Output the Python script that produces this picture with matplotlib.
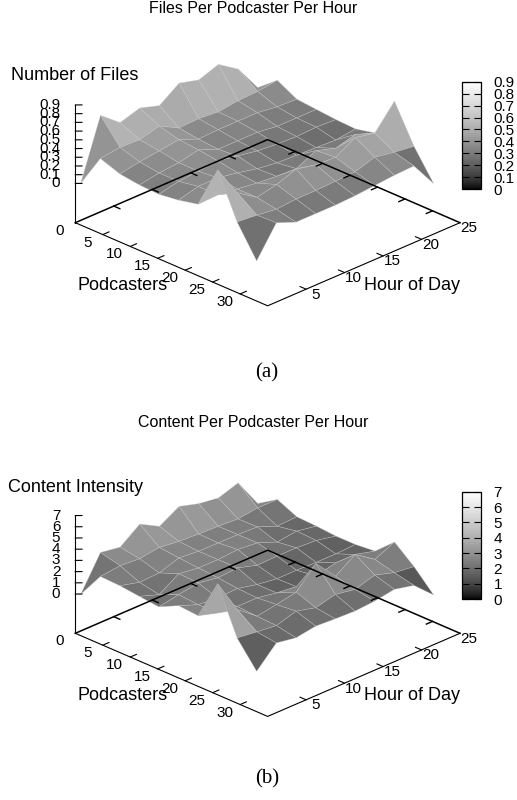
import numpy as np
import matplotlib
matplotlib.use("Agg")
import matplotlib.pyplot as plt
import matplotlib.transforms as mtransforms
from matplotlib.cm import ScalarMappable
from matplotlib.colors import ListedColormap, Normalize
from mpl_toolkits.mplot3d import proj3d

W, H = 517, 800

podcasters = [1, 4.56, 8.11, 11.67, 15.22, 18.78, 22.33, 25.89, 29.44, 33]
hours = [0, 2.56, 5.11, 7.67, 10.22, 12.78, 15.33, 17.89, 20.44, 23]

x_ticks = [0, 5, 10, 15, 20, 25, 30]
y_ticks = [5, 10, 15, 20, 25]

# rows = podcaster bins, columns = hour bins
files = [
    [.03, .71, .53, .60, .53, .69, .63, .71, .56, .25],
    [.41, .44, .43, .49, .37, .38, .36, .39, .40, .43],
    [.33, .37, .40, .43, .34, .35, .35, .35, .32, .31],
    [.30, .34, .36, .41, .32, .32, .32, .29, .29, .29],
    [.29, .34, .36, .38, .34, .30, .28, .27, .28, .27],
    [.32, .38, .38, .34, .29, .26, .25, .24, .23, .26],
    [.37, .38, .35, .32, .30, .29, .40, .33, .39, .31],
    [.86, .50, .35, .40, .48, .43, .42, .55, .50, .77],
    [.36, .34, .31, .33, .33, .34, .35, .42, .38, .35],
    [.01, .35, .26, .26, .26, .27, .29, .31, .32, .02],
]
files_ticks = [0, .1, .2, .3, .4, .5, .6, .7, .8, .9]

content = [
    [.2, 3.16, 2.88, 4.18, 3.22, 4.24, 3.73, 3.48, 4.06, 1.47],
    [2.53, 2.73, 2.6, 2.85, 2.63, 2.53, 2.46, 2.36, 2.59, 2.58],
    [2.46, 2.0, 2.08, 2.66, 2.5, 2.49, 2.47, 2.4, 1.71, 1.79],
    [2.26, 1.66, 2.77, 2.52, 2.51, 2.65, 2.49, 1.8, 2.02, 1.71],
    [2.08, 2.41, 2.69, 2.4, 2.52, 2.0, 2.05, 2.04, 1.94, 1.57],
    [2.94, 2.27, 2.1, 2.2, 1.79, 1.55, 1.55, 1.5, 1.5, 1.58],
    [2.8, 2.28, 2.1, 2.11, 1.8, 1.6, 1.8, 2.2, 2.2, 1.74],
    [6.4, 3.34, 1.99, 2.27, 2.62, 4.41, 2.53, 3.71, 2.51, 3.3],
    [2.32, 2.1, 1.91, 2.43, 1.98, 2.41, 2.1, 2.62, 2.08, 1.86],
    [.1, 1.87, 1.57, 1.85, 1.75, 1.68, 1.81, 2.1, 1.7, .09],
]
content_ticks = [0, 1, 2, 3, 4, 5, 6, 7]

plt.rcParams["font.family"] = ["Liberation Sans", "DejaVu Sans"]

# gnuplot's default gray palette, gamma 1.5
gray = np.linspace(0, 1, 256) ** (1 / 1.5)
cmap = ListedColormap(np.column_stack([gray, gray, gray]))

fig = plt.figure(figsize=(W / 100, H / 100), dpi=100)


def fig_text(px, py, s, **kw):
    fig.text(px / W, 1 - py / H, s, ha="center", va="center", **kw)


def px_offset(ax, dx, dy):
    return mtransforms.offset_copy(ax.transData, fig=fig, x=dx, y=dy, units="dots")


def fit_axes(ax, zlow, left_px, right_px, base_py):
    # move the square axes so the base corners land on these pixels
    ax.set_position([0.1, 0.1, 0.5, 0.5 * W / H])
    M = ax.get_proj()
    u, v, _ = proj3d.proj_transform(np.array([0, 35.0]), np.array([0, 25.0]),
                                    np.array([zlow, zlow]), M)
    vx0, vx1 = ax.viewLim.intervalx
    vy0, vy1 = ax.viewLim.intervaly
    side = (right_px - left_px) / ((u[1] - u[0]) / (vx1 - vx0))
    x0 = left_px - side * (u[0] - vx0) / (vx1 - vx0)
    y0 = (H - base_py) - side * (v[0] - vy0) / (vy1 - vy0)
    ax.set_position([x0 / W, y0 / H, side / W, side / H])


def panel(z_values, z_ticks, z_low, z_high, base_py, cbar_top):
    Z = np.array(z_values)
    ax = fig.add_axes([0.1, 0.1, 0.5, 0.5 * W / H], projection="3d", computed_zorder=False)
    ax.set_proj_type("ortho")
    ax.view_init(elev=25.6, azim=-45)
    ax.set_box_aspect((1, 1, 0.48))
    ax.set_axis_off()
    ax.patch.set_alpha(0)

    norm = Normalize(z_ticks[0], z_ticks[-1])
    mean = (Z[:-1, :-1] + Z[1:, :-1] + Z[:-1, 1:] + Z[1:, 1:]) / 4
    X, Y = np.meshgrid(podcasters, hours, indexing="ij")
    ax.plot_surface(X, Y, Z, rstride=1, cstride=1, facecolors=cmap(norm(mean)), shade=False,
                    edgecolor=(0.78, 0.78, 0.78, 0.55), linewidth=0.4, antialiased=True, zorder=1)

    # axes box on the base plane, back edges show through the surface
    lw = dict(color="k", zorder=2, clip_on=False)
    ax.plot([0, 0, 35], [0, 25, 25], [z_low] * 3, lw=1.1, **lw)
    ax.plot([0, 35, 35], [0, 0, 25], [z_low] * 3, lw=0.8, **lw)
    ax.plot([0, 0], [0, 0], [z_low, z_high], lw=0.8, **lw)

    for t in x_ticks[1:]:
        ax.plot([t, t], [0, 0.8], [z_low] * 2, lw=0.8, **lw)
        ax.plot([t, t], [25, 24.2], [z_low] * 2, lw=1.0, **lw)
    for t in y_ticks[:-1]:
        ax.plot([35, 33.9], [t, t], [z_low] * 2, lw=0.8, **lw)
        ax.plot([0, 1.1], [t, t], [z_low] * 2, lw=1.0, **lw)
    for t in z_ticks:
        ax.plot([0, 0.6], [0, 0.44], [t, t], lw=0.8, **lw)

    ax.set_xlim(0, 35, view_margin=0)
    ax.set_ylim(0, 25, view_margin=0)
    ax.set_zlim(z_low, z_high, view_margin=0)
    fit_axes(ax, z_low, 75.3, 460, base_py)

    for t in x_ticks:
        ax.text(t, 0, z_low, str(t), transform=px_offset(ax, -15.6, -8), ha="center",
                va="center", fontsize=11, zorder=3)
    for t in y_ticks:
        ax.text(35, t, z_low, str(t), transform=px_offset(ax, 9, -5.5), ha="center",
                va="center", fontsize=11, zorder=3)
    for t in z_ticks:
        ax.text(0, 0, t, f"{t:g}", transform=px_offset(ax, -15, 0), ha="right",
                va="center", fontsize=11, zorder=3)

    cax = fig.add_axes([461.7 / W, 1 - (cbar_top + 107.5) / H, 19.3 / W, 107.5 / H])
    cb = fig.colorbar(ScalarMappable(norm=norm, cmap=cmap), cax=cax, ticks=z_ticks)
    cb.ax.set_yticklabels([f"{t:g}" for t in z_ticks])
    cb.outline.set_linewidth(0.9)
    cax.tick_params(direction="in", left=True, right=True, length=5, width=0.8,
                    labelsize=11, pad=9)


panel(files, files_ticks, -0.45, 0.9, 222.7, 81.7)
panel(content, content_ticks, -3.5, 7, 633.3, 491.7)

fig_text(253, 8.5, "Files Per Podcaster Per Hour", fontsize=11.5)
fig_text(75, 75, "Number of Files", fontsize=13)
fig_text(123, 286, "Podcasters", fontsize=13)
fig_text(412.5, 286, "Hour of Day", fontsize=13)
fig_text(267, 373, "(a)", fontsize=15, family="Liberation Serif")

fig_text(253, 422.5, "Content Per Podcaster Per Hour", fontsize=11.5)
fig_text(75, 487, "Content Intensity", fontsize=13)
fig_text(123, 696, "Podcasters", fontsize=13)
fig_text(412.5, 696, "Hour of Day", fontsize=13)
fig_text(267, 779, "(b)", fontsize=15, family="Liberation Serif")

fig.savefig("out.png", dpi=100)
